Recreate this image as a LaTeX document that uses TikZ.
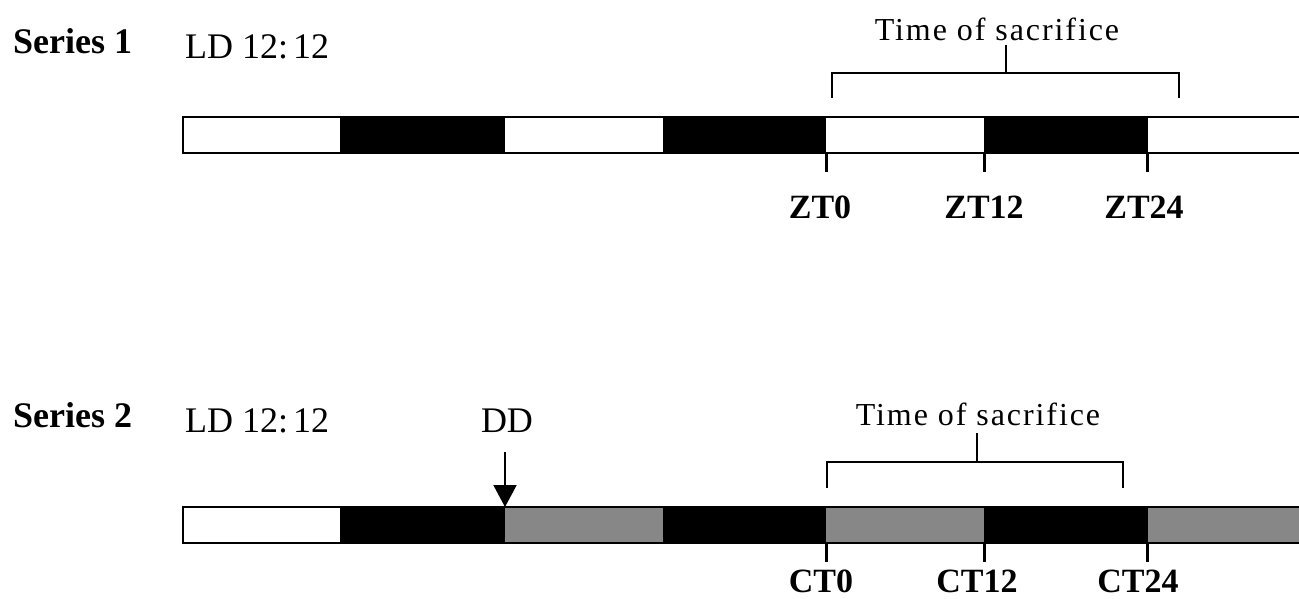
\documentclass[tikz,border=0pt]{standalone}
\usepackage{fontspec}
\setmainfont{Liberation Serif}
\usetikzlibrary{arrows.meta}
\definecolor{ddgray}{RGB}{135,135,135}
\begin{document}
\begin{tikzpicture}[x=1pt,y=-1pt,
  txt/.style={inner sep=0pt, font=\fontsize{36}{40}\selectfont},
  boldtxt/.style={inner sep=0pt, font=\fontsize{36}{40}\selectfont\bfseries},
  ticklbl/.style={inner sep=0pt, anchor=base, font=\fontsize{34}{38}\selectfont\bfseries},
  sactxt/.style={inner sep=0pt, anchor=base, font=\fontsize{32}{36}\selectfont\addfontfeature{LetterSpace=6}},
  outline/.style={line width=2pt, line join=miter},
  tickline/.style={line width=3pt},
  bracket/.style={line width=2pt},
  ddarrow/.style={line width=2pt, -{Triangle[width=23pt,length=22pt]}}]
\useasboundingbox (0,0) rectangle (1299,598);

% ---------- Series 1: LD 12:12 ----------
\node[boldtxt, anchor=base west] (s1) at (13,53) {Series 1};
\node[txt, anchor=base west] (ld1) at (185,58) {LD 12:\kern5pt12};

% light/dark segments
\fill[white] (183,117) rectangle (340,153);
\fill[black] (340,117) rectangle (505,153);
\fill[white] (505,117) rectangle (663,153);
\fill[black] (663,117) rectangle (826,153);
\fill[white] (826,117) rectangle (984,153);
\fill[black] (984,117) rectangle (1148,153);
\fill[white] (1148,117) rectangle (1299,153);
\draw[outline] (1300,117) -- (183,117) -- (183,153) -- (1300,153);

% sampling ticks
\coordinate (z0) at (826,153);
\coordinate (z12) at (984,153);
\coordinate (z24) at (1147,153);
\foreach \t in {z0,z12,z24} \draw[tickline] (\t) -- ++(0,19);
\node[ticklbl] (zt0) at (820,218) {ZT0};
\node[ticklbl] (zt12) at (984,218) {ZT12};
\node[ticklbl] (zt24) at (1144,218) {ZT24};

% time of sacrifice bracket
\node[sactxt] (sac1) at (997,40) {Time of sacrifice};
\coordinate (b1l) at (832,98);
\coordinate (b1r) at (1179,98);
\coordinate (b1s) at (1006,45);
\draw[bracket] (b1l) -- (832,73) -- (1179,73) -- (b1r);
\draw[bracket] (1006,73) -- (b1s);

% ---------- Series 2: LD 12:12 then DD ----------
\node[boldtxt, anchor=base west] (s2) at (13,427) {Series 2};
\node[txt, anchor=base west] (ld2) at (185,432) {LD 12:\kern5pt12};
\node[txt, anchor=base] (dd) at (507,432) {DD};

\fill[white] (183,507) rectangle (340,543);
\fill[black] (340,507) rectangle (505,543);
\fill[ddgray] (505,507) rectangle (663,543);
\fill[black] (663,507) rectangle (826,543);
\fill[ddgray] (826,507) rectangle (984,543);
\fill[black] (984,507) rectangle (1148,543);
\fill[ddgray] (1148,507) rectangle (1299,543);
\draw[outline] (1300,507) -- (183,507) -- (183,543) -- (1300,543);

% transfer to constant darkness
\coordinate (ddtop) at (505,452);
\coordinate (ddtip) at (505,507);
\draw[ddarrow] (ddtop) -- (ddtip);

\coordinate (c0) at (826,543);
\coordinate (c12) at (984,543);
\coordinate (c24) at (1147,543);
\foreach \t in {c0,c12,c24} \draw[tickline] (\t) -- ++(0,19);
\node[ticklbl] (ct0) at (821,592) {CT0};
\node[ticklbl] (ct12) at (977,592) {CT12};
\node[ticklbl] (ct24) at (1138,592) {CT24};

\node[sactxt] (sac2) at (978,425) {Time of sacrifice};
\coordinate (b2l) at (827,488);
\coordinate (b2r) at (1123,488);
\coordinate (b2s) at (977,433);
\draw[bracket] (b2l) -- (827,462) -- (1123,462) -- (b2r);
\draw[bracket] (977,462) -- (b2s);
\end{tikzpicture}
\end{document}
